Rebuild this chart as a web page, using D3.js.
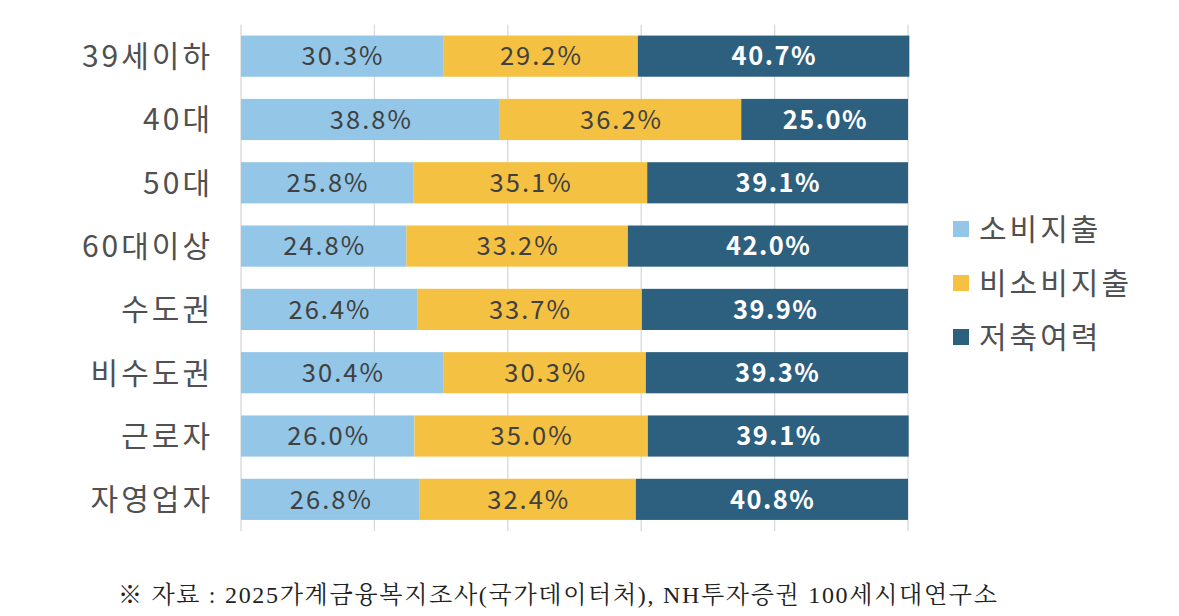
<!DOCTYPE html>
<html><head><meta charset="utf-8">
<script src="https://cdn.jsdelivr.net/npm/d3@7"></script>
<style>
html,body{margin:0;padding:0;background:#fff;}
svg{display:block;}
</style></head>
<body>
<svg id="chart" width="1179" height="616"></svg>
<script>
const categories = ["39세이하","40대","50대","60대이상","수도권","비수도권","근로자","자영업자"];
const seriesNames = ["소비지출","비소비지출","저축여력"];
const consumption = [30.3, 38.8, 25.8, 24.8, 26.4, 30.4, 26.0, 26.8];
const nonConsumption = [29.2, 36.2, 35.1, 33.2, 33.7, 30.3, 35.0, 32.4];
const savings = [40.7, 25.0, 39.1, 42.0, 39.9, 39.3, 39.1, 40.8];
const xTicks = [0, 20, 40, 60, 80, 100];
const footnote = "※ 자료 : 2025가계금융복지조사(국가데이터처), NH투자증권 100세시대연구소";

const colors = ["#93c6e7", "#f5c142", "#2d5f7f"];
const labelColors = ["#404040", "#404040", "#ffffff"];
const labelWeights = ["normal", "normal", "bold"];
const labelSpacing = [2, 2, 1.5];
const font = "'Noto Sans CJK KR','Noto Sans',sans-serif";

const svg = d3.select("#chart");
const x = d3.scaleLinear().domain([0, 100]).range([241, 908]);
const y = d3.scaleBand().domain(categories).range([24.5, 531]).paddingInner(0.35).paddingOuter(0.175);

const rows = categories.map((c, i) => ({cat: c, vals: [consumption[i], nonConsumption[i], savings[i]]}));
const stack = d3.stack().keys([0,1,2]).value((d, k) => d.vals[k]);
const stacked = stack(rows);

// gridlines
svg.append("g").selectAll("line").data(xTicks).join("line")
  .attr("x1", d => x(d)).attr("x2", d => x(d))
  .attr("y1", y.range()[0]).attr("y2", y.range()[1])
  .attr("stroke", "#d9d9d9").attr("stroke-width", 1.3);

// bars
const layers = svg.append("g").selectAll("g").data(stacked).join("g")
  .attr("fill", (d, i) => colors[i]);
layers.selectAll("rect").data(d => d).join("rect")
  .attr("x", d => x(d[0])).attr("width", d => x(d[1]) - x(d[0]))
  .attr("y", d => y(d.data.cat)).attr("height", y.bandwidth());

// value labels
stacked.forEach((layer, i) => {
  svg.append("g").selectAll("text").data(layer).join("text")
    .attr("x", d => (x(d[0]) + x(d[1])) / 2 + labelSpacing[i] / 2)
    .attr("y", d => y(d.data.cat) + y.bandwidth() / 2)
    .attr("dy", "0.36em")
    .attr("text-anchor", "middle")
    .attr("font-family", font)
    .attr("font-size", 25.5)
    .attr("letter-spacing", labelSpacing[i])
    .attr("font-weight", labelWeights[i])
    .attr("fill", labelColors[i])
    .text(d => d.data.vals[i].toFixed(1) + "%");
});

// category axis
const yAxis = d3.axisLeft(y).tickSize(0).tickPadding(28);
const ga = svg.append("g").attr("transform", `translate(${x(0)},0)`).call(yAxis);
ga.select(".domain").remove();
ga.selectAll("text").attr("font-family", font).attr("font-size", 30)
  .attr("letter-spacing", 3)
  .attr("fill", "#505050").attr("dy", "0.36em");

// legend
const legend = svg.append("g").selectAll("g").data(seriesNames).join("g")
  .attr("transform", (d, i) => `translate(953, ${229 + i * 54})`);
legend.append("rect").attr("x", 0).attr("y", -8).attr("width", 16).attr("height", 16)
  .attr("fill", (d, i) => colors[i]);
legend.append("text").attr("x", 26).attr("y", 0).attr("dy", "0.36em")
  .attr("font-family", font).attr("font-size", 30).attr("letter-spacing", 3)
  .attr("fill", "#505050")
  .text(d => d);

// footnote
svg.append("text").attr("x", 118).attr("y", 594).attr("dy", "0.36em")
  .attr("font-family", "'Liberation Serif','Noto Serif CJK KR','Noto Sans CJK KR',serif")
  .attr("font-size", 24).attr("letter-spacing", 1.7).attr("fill", "#222")
  .text(footnote);
</script>
</body></html>
